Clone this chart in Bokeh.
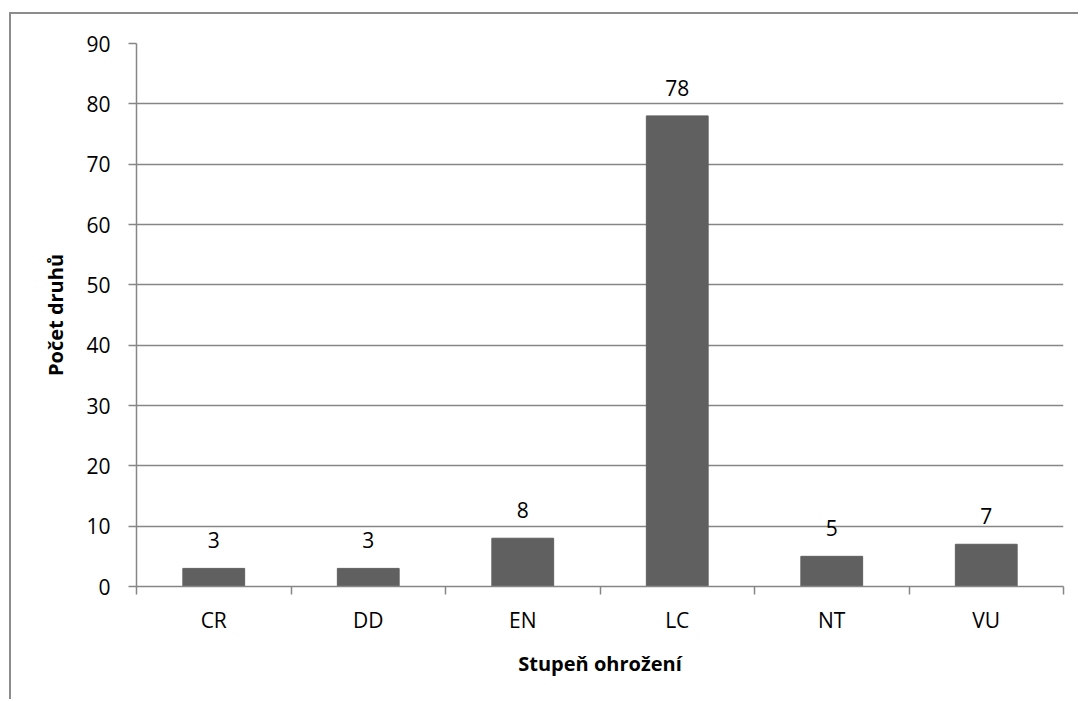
from bokeh.plotting import figure
from bokeh.models import FixedTicker, Range1d, ColumnDataSource
from bokeh.core.properties import value
from bokeh.embed import file_html
from bokeh.resources import INLINE

categories = ["CR", "DD", "EN", "LC", "NT", "VU"]
counts = [3, 3, 8, 78, 5, 7]
y_ticks = [0, 10, 20, 30, 40, 50, 60, 70, 80, 90]

FONT = "Open Sans"
GRID = "#868686"
BAR = "#606060"

OX, OY = 11, 14  # offset of chart area border
xs = [i + 0.5 for i in range(len(categories))]
src = ColumnDataSource(dict(x=xs, top=counts, cat=categories, lab=[str(c) for c in counts]))

p = figure(width=1080 - OX, height=701 - OY, output_backend="svg", toolbar_location=None,
           x_range=Range1d(0, len(categories)), y_range=Range1d(0, 90),
           min_border_left=136 - OX, min_border_right=17, min_border_top=43 - OY,
           min_border_bottom=115,
           styles={"margin-left": "9px", "margin-top": "12px",
                   "border-left": "2px solid #8c8c8c", "border-top": "2px solid #8c8c8c"})
p.outline_line_color = None
p.background_fill_color = "white"
p.border_fill_color = "white"

p.vbar(x="x", top="top", width=0.4, bottom=0, source=src, fill_color=BAR, line_color=BAR)
p.text(x="x", y="top", text="lab", source=src, text_align="center", text_baseline="alphabetic",
       y_offset=-28, text_font=value(FONT), text_font_size="21px", text_color="#000000")

# x axis
xa = p.xaxis[0]
xa.ticker = FixedTicker(ticks=xs, minor_ticks=list(range(len(categories) + 1)))
xa.major_label_overrides = {x: c for x, c in zip(xs, categories)}
xa.major_tick_out = 0
xa.major_tick_in = 0
xa.minor_tick_out = 8
xa.minor_tick_in = 0
xa.minor_tick_line_color = GRID
xa.minor_tick_line_width = 1.5
xa.axis_line_color = GRID
xa.axis_line_width = 1.5
xa.major_label_standoff = 11
xa.major_label_text_font = FONT
xa.major_label_text_font_size = "21px"
xa.major_label_text_color = "#000000"
xa.axis_label = "Stupeň ohrožení"
xa.axis_label_text_font = FONT
xa.axis_label_text_font_style = "bold"
xa.axis_label_text_font_size = "20px"
xa.axis_label_text_color = "#000000"
xa.axis_label_standoff = 13

# y axis
ya = p.yaxis[0]
ya.ticker = FixedTicker(ticks=y_ticks)
ya.minor_tick_line_color = None
ya.major_tick_out = 8
ya.major_tick_in = 0
ya.major_tick_line_color = GRID
ya.major_tick_line_width = 1.5
ya.axis_line_color = GRID
ya.axis_line_width = 1.5
ya.major_label_standoff = 18
ya.major_label_text_font = FONT
ya.major_label_text_font_size = "21px"
ya.major_label_text_color = "#000000"
ya.axis_label = "Počet druhů"
ya.axis_label_text_font = FONT
ya.axis_label_text_font_style = "bold"
ya.axis_label_text_font_size = "20px"
ya.axis_label_text_color = "#000000"
ya.axis_label_standoff = 14

p.xgrid.grid_line_color = None
p.ygrid.grid_line_color = GRID
p.ygrid.grid_line_width = 1.5
p.ygrid.ticker = FixedTicker(ticks=y_ticks)

open("out.html", "w").write(file_html(p, INLINE))
